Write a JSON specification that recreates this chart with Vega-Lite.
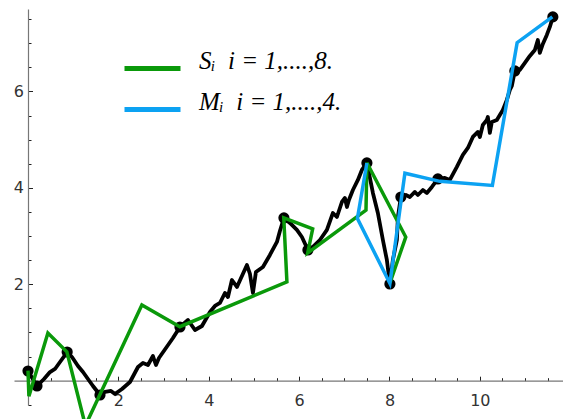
{
  "$schema": "https://vega.github.io/schema/vega-lite/v6.json",
  "width": 549,
  "height": 396,
  "autosize": {"type": "none"},
  "padding": {"left": 14, "top": 9, "right": 0, "bottom": 14},
  "background": "white",
  "config": {"view": {"stroke": null}},
  "datasets": {
    "walk": [
      {"i":1,"x":0,"y":0.201},{"i":2,"x":0.199,"y":-0.110},{"i":3,"x":0.354,"y":0.035},{"i":4,"x":0.487,"y":0.180},
      {"i":5,"x":0.597,"y":0.243},{"i":6,"x":0.708,"y":0.388},{"i":7,"x":0.867,"y":0.595},{"i":8,"x":0.973,"y":0.492},
      {"i":9,"x":1.106,"y":0.305},{"i":10,"x":1.217,"y":0.180},{"i":11,"x":1.327,"y":0.035},{"i":12,"x":1.438,"y":-0.110},
      {"i":13,"x":1.593,"y":-0.297},{"i":14,"x":1.704,"y":-0.234},{"i":15,"x":1.836,"y":-0.213},{"i":16,"x":1.925,"y":-0.276},
      {"i":17,"x":2.080,"y":-0.172},{"i":18,"x":2.257,"y":-0.027},{"i":19,"x":2.434,"y":0.284},{"i":20,"x":2.544,"y":0.367},
      {"i":21,"x":2.655,"y":0.326},{"i":22,"x":2.765,"y":0.512},{"i":23,"x":2.832,"y":0.326},{"i":24,"x":2.898,"y":0.471},
      {"i":25,"x":3.053,"y":0.678},{"i":26,"x":3.208,"y":0.886},{"i":27,"x":3.363,"y":1.114},{"i":28,"x":3.540,"y":1.259},
      {"i":29,"x":3.695,"y":1.052},{"i":30,"x":3.850,"y":1.135},{"i":31,"x":4.027,"y":1.425},{"i":32,"x":4.137,"y":1.550},
      {"i":33,"x":4.248,"y":1.612},{"i":34,"x":4.358,"y":1.819},{"i":35,"x":4.425,"y":1.736},{"i":36,"x":4.513,"y":2.089},
      {"i":37,"x":4.624,"y":1.944},{"i":38,"x":4.845,"y":2.400},{"i":39,"x":4.912,"y":2.214},{"i":40,"x":4.978,"y":1.819},
      {"i":41,"x":5.044,"y":2.255},{"i":42,"x":5.199,"y":2.359},{"i":43,"x":5.354,"y":2.608},{"i":44,"x":5.509,"y":2.878},
      {"i":45,"x":5.575,"y":3.106},{"i":46,"x":5.664,"y":3.376},{"i":47,"x":5.796,"y":3.272},{"i":48,"x":5.951,"y":3.127},
      {"i":49,"x":6.062,"y":2.981},{"i":50,"x":6.195,"y":2.712},{"i":51,"x":6.305,"y":2.774},{"i":52,"x":6.460,"y":2.919},
      {"i":53,"x":6.615,"y":3.127},{"i":54,"x":6.748,"y":3.479},{"i":55,"x":6.836,"y":3.396},{"i":56,"x":6.947,"y":3.707},
      {"i":57,"x":7.013,"y":3.790},{"i":58,"x":7.058,"y":3.604},{"i":59,"x":7.102,"y":3.749},{"i":60,"x":7.190,"y":3.956},
      {"i":61,"x":7.301,"y":4.164},{"i":62,"x":7.389,"y":4.371},{"i":63,"x":7.500,"y":4.517},{"i":64,"x":7.544,"y":4.309},
      {"i":65,"x":7.633,"y":3.894},{"i":66,"x":7.743,"y":3.479},{"i":67,"x":7.854,"y":2.919},{"i":68,"x":7.942,"y":2.504},
      {"i":69,"x":8.009,"y":2.006},{"i":70,"x":8.075,"y":2.504},{"i":71,"x":8.164,"y":2.919},{"i":72,"x":8.186,"y":3.396},
      {"i":73,"x":8.252,"y":3.811},{"i":74,"x":8.363,"y":3.852},{"i":75,"x":8.451,"y":3.811},{"i":76,"x":8.562,"y":3.915},
      {"i":77,"x":8.628,"y":3.852},{"i":78,"x":8.739,"y":3.956},{"i":79,"x":8.827,"y":3.894},{"i":80,"x":8.938,"y":4.019},
      {"i":81,"x":9.071,"y":4.185},{"i":82,"x":9.226,"y":4.206},{"i":83,"x":9.336,"y":4.164},{"i":84,"x":9.491,"y":4.434},
      {"i":85,"x":9.624,"y":4.683},{"i":86,"x":9.735,"y":4.828},{"i":87,"x":9.845,"y":5.056},{"i":88,"x":9.956,"y":5.160},
      {"i":89,"x":10.000,"y":5.056},{"i":90,"x":10.066,"y":5.305},{"i":91,"x":10.155,"y":5.409},{"i":92,"x":10.177,"y":5.471},
      {"i":93,"x":10.221,"y":5.139},{"i":94,"x":10.265,"y":5.367},{"i":95,"x":10.376,"y":5.409},{"i":96,"x":10.442,"y":5.512},
      {"i":97,"x":10.509,"y":5.616},{"i":98,"x":10.597,"y":5.824},{"i":99,"x":10.664,"y":6.031},{"i":100,"x":10.708,"y":6.114},
      {"i":101,"x":10.774,"y":6.425},{"i":102,"x":10.885,"y":6.446},{"i":103,"x":10.996,"y":6.591},{"i":104,"x":11.106,"y":6.737},
      {"i":105,"x":11.217,"y":6.861},{"i":106,"x":11.283,"y":7.068},{"i":107,"x":11.327,"y":6.799},{"i":108,"x":11.394,"y":6.985},
      {"i":109,"x":11.482,"y":7.172},{"i":110,"x":11.549,"y":7.338},{"i":111,"x":11.615,"y":7.546}
    ],
    "dots": [
      {"x":0,"y":0.201},{"x":0.199,"y":-0.110},{"x":0.867,"y":0.595},{"x":1.593,"y":-0.297},
      {"x":3.363,"y":1.114},{"x":5.664,"y":3.376},{"x":6.195,"y":2.712},{"x":7.500,"y":4.517},
      {"x":8.009,"y":2.006},{"x":8.252,"y":3.811},{"x":9.071,"y":4.185},{"x":10.774,"y":6.425},{"x":11.615,"y":7.546}
    ],
    "segs": [
      {"series":"S","i":1,"x":0,"y":0.21},{"series":"S","i":2,"x":0.02,"y":-0.32},{"series":"S","i":3,"x":0.44,"y":0.99},
      {"series":"S","i":4,"x":0.86,"y":0.60},{"series":"S","i":5,"x":1.27,"y":-0.93},{"series":"S","i":6,"x":2.52,"y":1.57},
      {"series":"S","i":7,"x":3.36,"y":1.12},{"series":"S","i":8,"x":5.73,"y":2.05},{"series":"S","i":9,"x":5.66,"y":3.38},
      {"series":"S","i":10,"x":6.30,"y":3.15},{"series":"S","i":11,"x":6.19,"y":2.65},{"series":"S","i":12,"x":7.48,"y":3.54},
      {"series":"S","i":13,"x":7.50,"y":4.52},{"series":"S","i":14,"x":8.36,"y":2.98},{"series":"S","i":15,"x":8.01,"y":2.03},
      {"series":"M","i":1,"x":7.50,"y":4.517},{"series":"M","i":2,"x":7.29,"y":3.365},{"series":"M","i":3,"x":8.009,"y":2.017},
      {"series":"M","i":4,"x":8.268,"y":3.811},{"series":"M","i":5,"x":8.341,"y":4.303},{"series":"M","i":6,"x":9.115,"y":4.135},
      {"series":"M","i":7,"x":10.277,"y":4.050},{"series":"M","i":8,"x":10.825,"y":7.012},{"series":"M","i":9,"x":11.604,"y":7.546}
    ]
  },
  "encoding": {
    "x": {
      "field": "x", "type": "quantitative",
      "scale": {"domain": [-0.31, 11.84], "nice": false, "zero": false},
      "axis": {
        "orient": "bottom", "offset": -24.3, "title": null, "grid": false,
        "values": [0.5,1,1.5,2,2.5,3,3.5,4,4.5,5,5.5,6,6.5,7,7.5,8,8.5,9,9.5,10,10.5,11,11.5],
        "labelExpr": "datum.value % 2 == 0 ? '' + datum.value : ''",
        "tickSize": {"condition": {"test": "datum.value % 2 == 0", "value": -4.5}, "value": -3},
        "tickColor": "#222", "tickWidth": 1,
        "domainColor": "#777", "domainWidth": 1.2,
        "labelFont": "DejaVu Sans", "labelFontSize": 16, "labelColor": "#333",
        "labelPadding": 16, "labelFlush": false, "labelOverlap": false
      }
    },
    "y": {
      "field": "y", "type": "quantitative",
      "scale": {"domain": [-0.504, 7.71], "nice": false, "zero": false},
      "axis": {
        "orient": "left", "offset": -14, "title": null, "grid": false,
        "values": [-0.5,0.5,1,1.5,2,2.5,3,3.5,4,4.5,5,5.5,6,6.5,7,7.5],
        "labelExpr": "datum.value % 2 == 0 ? '' + datum.value : ''",
        "tickSize": {"condition": {"test": "datum.value % 2 == 0", "value": -4.5}, "value": -3},
        "tickColor": "#222", "tickWidth": 1,
        "domainColor": "#777", "domainWidth": 1.2,
        "labelFont": "DejaVu Sans", "labelFontSize": 16, "labelColor": "#333",
        "labelPadding": 9, "labelFlush": false, "labelOverlap": false
      }
    }
  },
  "layer": [
    {
      "data": {"name": "walk"},
      "mark": {"type": "line", "color": "black", "strokeWidth": 3.8, "strokeJoin": "round"},
      "encoding": {"order": {"field": "i", "type": "quantitative"}}
    },
    {
      "data": {"name": "dots"},
      "mark": {"type": "circle", "color": "black", "size": 125, "opacity": 1}
    },
    {
      "data": {"name": "segs"},
      "mark": {"type": "line", "strokeWidth": 3.5, "strokeJoin": "miter"},
      "encoding": {
        "order": {"field": "i", "type": "quantitative"},
        "color": {
          "field": "series", "type": "nominal",
          "scale": {"domain": ["S", "M"], "range": ["#0a990a", "#0ca2f2"]},
          "legend": {
            "orient": "none", "legendX": 108, "legendY": 29, "title": null,
            "symbolType": "stroke", "symbolSize": 3136, "symbolStrokeWidth": 5,
            "labelFont": "Liberation Serif", "labelFontSize": 25, "labelFontStyle": "italic",
            "labelColor": "black", "labelBaseline": "alphabetic", "labelLimit": 400,
            "labelOffset": 16, "rowPadding": -26, "padding": 0,
            "labelExpr": "datum.value == 'S' ? 'Sᵢ\u00a0\u00a0i\u00a0=\u00a01,....,8.' : 'Mᵢ\u00a0\u00a0i\u00a0=\u00a01,....,4.'"
          }
        }
      }
    }
  ]
}
